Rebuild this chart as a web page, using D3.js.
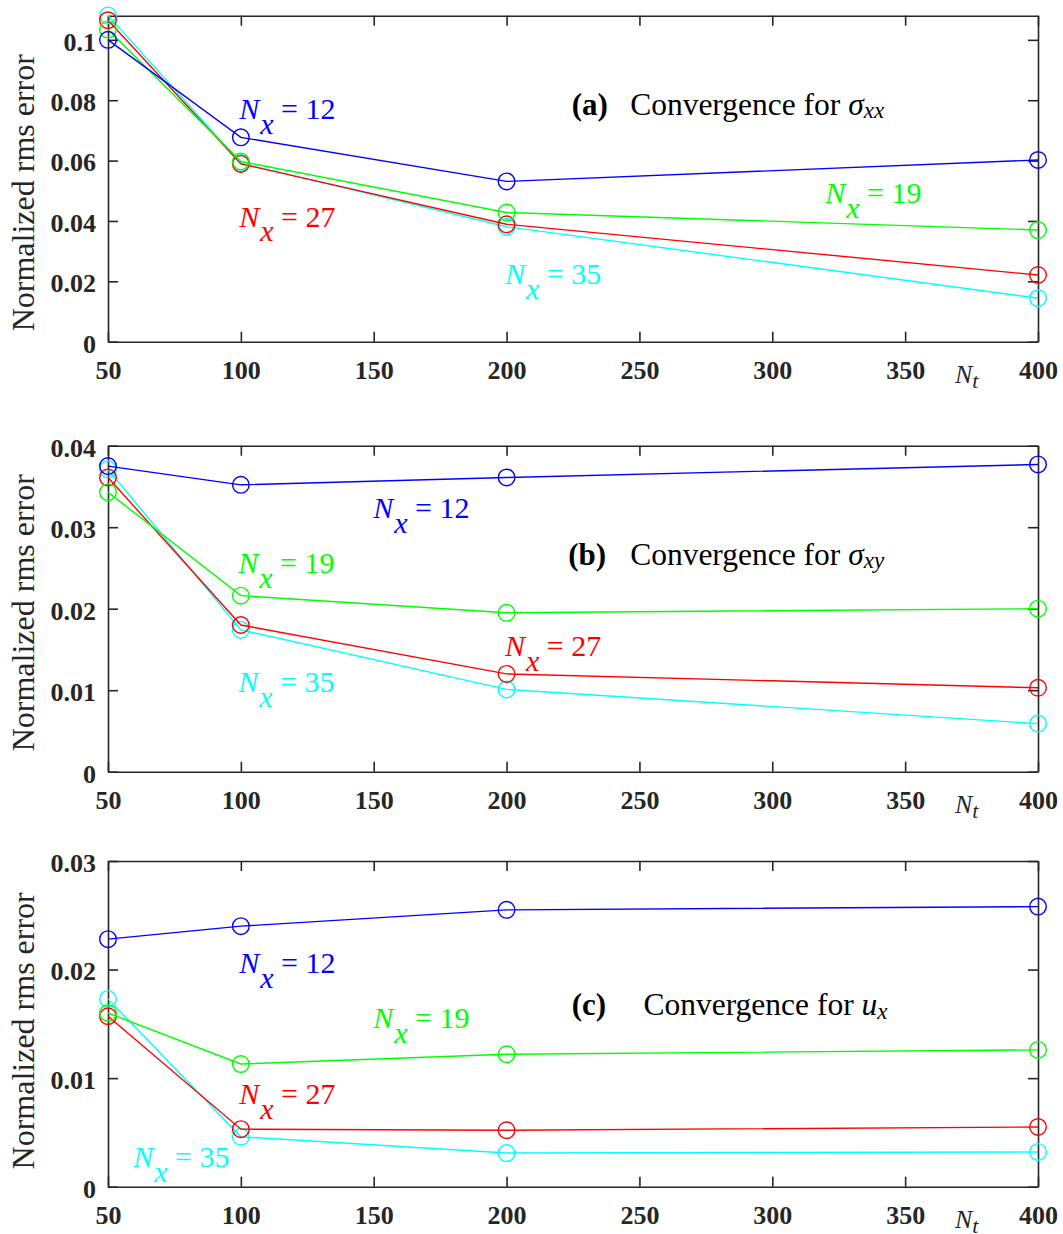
<!DOCTYPE html>
<html><head><meta charset="utf-8">
<script src="https://cdn.jsdelivr.net/npm/d3@7"></script>
<style>body{margin:0;background:#fff} svg{display:block}</style>
</head><body><svg id="chart" width="1063" height="1234"></svg>
<script>
// ---------- data ----------
const Nt = [50, 100, 200, 400];
const xTicks = [50, 100, 150, 200, 250, 300, 350, 400];
const seriesKeys = ["N35", "N27", "N19", "N12"];            // drawing order
const seriesColors = {N12: "#0000ff", N19: "#00ff00", N27: "#ff0000", N35: "#00ffff"};
const seriesNx = {N12: "12", N19: "19", N27: "27", N35: "35"};

// (a) sigma_xx
const sxxN12 = [0.1000, 0.0677, 0.0531, 0.0602];
const sxxN19 = [0.1034, 0.0597, 0.0428, 0.0370];
const sxxN27 = [0.1065, 0.0589, 0.0389, 0.0221];
const sxxN35 = [0.1081, 0.0592, 0.0381, 0.0144];
// (b) sigma_xy
const sxyN12 = [0.0375, 0.0352, 0.0361, 0.0377];
const sxyN19 = [0.0343, 0.0216, 0.0195, 0.0200];
const sxyN27 = [0.0361, 0.0180, 0.0120, 0.0103];
const sxyN35 = [0.0371, 0.0174, 0.0101, 0.0059];
// (c) u_x
const uxN12 = [0.0228, 0.0240, 0.0255, 0.0258];
const uxN19 = [0.0160, 0.0113, 0.0122, 0.0126];
const uxN27 = [0.0157, 0.0053, 0.0052, 0.0055];
const uxN35 = [0.0173, 0.0046, 0.0031, 0.0032];

const yTicksA = [0, 0.02, 0.04, 0.06, 0.08, 0.1];
const yTicksB = [0, 0.01, 0.02, 0.03, 0.04];
const yTicksC = [0, 0.01, 0.02, 0.03];
const yTickLabelsA = ["0", "0.02", "0.04", "0.06", "0.08", "0.1"];
const yTickLabelsB = ["0", "0.01", "0.02", "0.03", "0.04"];
const yTickLabelsC = ["0", "0.01", "0.02", "0.03"];

// annotation anchors in data coordinates [Nt, value]
const labelPosA = {N12: [99.4, 0.0738], N27: [99.4, 0.0381], N35: [199.4, 0.0191], N19: [319.9, 0.0459]};
const labelPosB = {N12: [149.8, 0.0311], N19: [99.0, 0.0244], N27: [199.4, 0.0142], N35: [99.0, 0.0098]};
const labelPosC = {N12: [99.4, 0.0197], N19: [149.8, 0.0146], N27: [99.4, 0.0076], N35: [59.5, 0.0018]};

const panels = [
  {tag: "(a)", symbol: "σ", sub: "xx", yMax: 0.108, yTicks: yTicksA, yLabels: yTickLabelsA,
   series: {N12: sxxN12, N19: sxxN19, N27: sxxN27, N35: sxxN35}, labelPos: labelPosA,
   titlePos: [224.5, 0.0752], convX: 246.5, top: 15.7, bottom: 341.7, ylabOff: 14},
  {tag: "(b)", symbol: "σ", sub: "xy", yMax: 0.04, yTicks: yTicksB, yLabels: yTickLabelsB,
   series: {N12: sxyN12, N19: sxyN19, N27: sxyN27, N35: sxyN35}, labelPos: labelPosB,
   titlePos: [223.2, 0.0254], convX: 246.5, top: 445.7, bottom: 771.7, ylabOff: 4},
  {tag: "(c)", symbol: "u", sub: "x", yMax: 0.03, yTicks: yTicksC, yLabels: yTickLabelsC,
   series: {N12: uxN12, N19: uxN19, N27: uxN27, N35: uxN35}, labelPos: labelPosC,
   titlePos: [224.5, 0.0158], convX: 251.5, top: 861, bottom: 1186.7, ylabOff: 7}
];

// ---------- drawing ----------
const FONT = "'Liberation Serif','Times New Roman',serif";
const AX = "#262626";
const left = 108, right = 1038, tickLen = 10;
const svg = d3.select("#chart").style("font-family", FONT);

panels.forEach(p => {
  const x = d3.scaleLinear().domain([50, 400]).range([left, right]);
  const y = d3.scaleLinear().domain([0, p.yMax]).range([p.bottom, p.top]);
  const g = svg.append("g");

  // axes (inward ticks on all four sides)
  const bottomAx = d3.axisBottom(x).tickValues(xTicks).tickSizeInner(-tickLen).tickSizeOuter(0).tickFormat(d3.format("d"));
  const topAx = d3.axisTop(x).tickValues(xTicks).tickSizeInner(-tickLen).tickSizeOuter(0).tickFormat("");
  const leftAx = d3.axisLeft(y).tickValues(p.yTicks).tickSizeInner(-tickLen).tickSizeOuter(0)
      .tickFormat((d, i) => p.yLabels[i]).tickPadding(12);
  const rightAx = d3.axisRight(y).tickValues(p.yTicks).tickSizeInner(-tickLen).tickSizeOuter(0).tickFormat("");

  const gb = g.append("g").attr("transform", `translate(0,${p.bottom})`).call(bottomAx);
  const gt = g.append("g").attr("transform", `translate(0,${p.top})`).call(topAx);
  const gl = g.append("g").attr("transform", `translate(${left},0)`).call(leftAx);
  const gr = g.append("g").attr("transform", `translate(${right},0)`).call(rightAx);
  [gb, gt, gl, gr].forEach(a => {
    a.select(".domain").attr("stroke", AX).attr("stroke-width", 1.6);
    a.selectAll(".tick line").attr("stroke", AX).attr("stroke-width", 1.6);
    a.selectAll(".tick text").attr("fill", AX).style("font-family", FONT)
      .style("font-weight", "bold").style("font-size", "26px");
  });
  gb.selectAll(".tick text").attr("dy", null).attr("y", 37);
  gl.selectAll(".tick text").attr("dy", "0.4em");

  // series
  const line = d3.line().x((d, i) => x(Nt[i])).y(d => y(d));
  seriesKeys.forEach(k => {
    const vals = p.series[k];
    g.append("path").datum(vals).attr("d", line).attr("fill", "none")
      .attr("stroke", seriesColors[k]).attr("stroke-width", 1.4);
    g.selectAll(null).data(vals).enter().append("circle")
      .attr("cx", (d, i) => x(Nt[i])).attr("cy", d => y(d)).attr("r", 8.3)
      .attr("fill", "none").attr("stroke", seriesColors[k]).attr("stroke-width", 1.4);
  });

  // N_x labels
  ["N12", "N19", "N27", "N35"].forEach(k => {
    const pos = p.labelPos[k];
    const t = g.append("text").attr("x", x(pos[0])).attr("y", y(pos[1]))
      .attr("fill", seriesColors[k]).style("font-size", "30px");
    t.append("tspan").style("font-style", "italic").text("N");
    t.append("tspan").style("font-style", "italic").attr("dy", 14.7).attr("dx", 1).text("x");
    t.append("tspan").attr("dy", -14.7).text(" = " + seriesNx[k]);
  });

  // panel title
  const tx = x(p.titlePos[0]), ty = y(p.titlePos[1]);
  g.append("text").attr("x", tx).attr("y", ty).attr("fill", "#000")
    .style("font-size", "31px").style("font-weight", "bold").text(p.tag);
  const tt = g.append("text").attr("x", x(p.convX)).attr("y", ty).attr("fill", "#000").style("font-size", "31.5px");
  tt.append("tspan").text("Convergence for ");
  tt.append("tspan").style("font-style", "italic").text(p.symbol);
  tt.append("tspan").style("font-style", "italic").style("font-size", "23px").attr("dy", 3.5).text(p.sub);

  // y label
  const cy = (p.top + p.bottom) / 2 + p.ylabOff;
  g.append("text").attr("transform", `translate(33.5,${cy}) rotate(-90)`)
    .attr("text-anchor", "middle").attr("fill", AX).style("font-size", "32px")
    .text("Normalized rms error");

  // x label N_t
  const nt = g.append("text").attr("x", 955).attr("y", p.bottom + 41.7).attr("fill", AX)
    .style("font-size", "26px").style("font-style", "italic");
  nt.append("tspan").text("N");
  nt.append("tspan").attr("dy", 5).style("font-size", "22px").text("t");
});
</script>
</body></html>
